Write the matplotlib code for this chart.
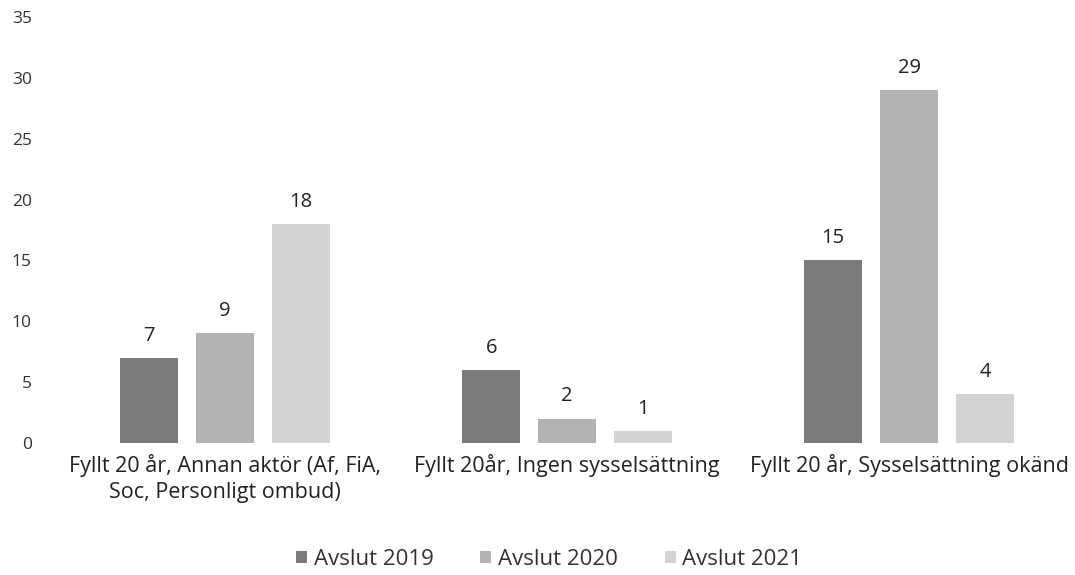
import numpy as np
import matplotlib.pyplot as plt

kategorier = ["Fyllt 20 år, Annan aktör (Af, FiA,\nSoc, Personligt ombud)",
              "Fyllt 20år, Ingen sysselsättning",
              "Fyllt 20 år, Sysselsättning okänd"]
serier = ["Avslut 2019", "Avslut 2020", "Avslut 2021"]
v2019 = [7, 6, 15]
v2020 = [9, 2, 29]
v2021 = [18, 1, 4]
yticks = [0, 5, 10, 15, 20, 25, 30, 35]

plt.rcParams['font.family'] = ['Open Sans', 'DejaVu Sans']
farger = ['#7b7b7b', '#b3b3b3', '#d3d3d3']

fig = plt.figure(figsize=(10.75, 5.75), dpi=100)
ax = fig.add_axes([54/1075, 132/575, 1 - 54/1075, 426/575])

x = np.arange(len(kategorier))
bredd = 0.17
steg = 0.222
for i, (namn, varden) in enumerate(zip(serier, [v2019, v2020, v2021])):
    pos = x + (i - 1) * steg
    ax.bar(pos, varden, bredd, color=farger[i], label=namn)
    for p, v in zip(pos, varden):
        ax.text(p, v + 1.0, str(v), ha='center', va='bottom', fontsize=14.5, color='#222222')

ax.set_xlim(-0.5, 2.485)
ax.set_ylim(0, 35)
ax.set_yticks(yticks)
ax.tick_params(axis='y', length=0, labelsize=12.5, colors='#333333', pad=16)
ax.set_xticks(x)
ax.set_xticklabels(kategorier, fontsize=15.5, color='#222222', linespacing=1.3)
ax.tick_params(axis='x', length=0, pad=8)
for s in ax.spines.values():
    s.set_visible(False)

ax.legend(loc='lower center', bbox_to_anchor=(0.485, -0.345), ncol=3, frameon=False,
          fontsize=16, handlelength=0.5, handleheight=0.5, columnspacing=2.1,
          handletextpad=0.3, labelcolor='#333333')

plt.savefig('out.png', dpi=100)
